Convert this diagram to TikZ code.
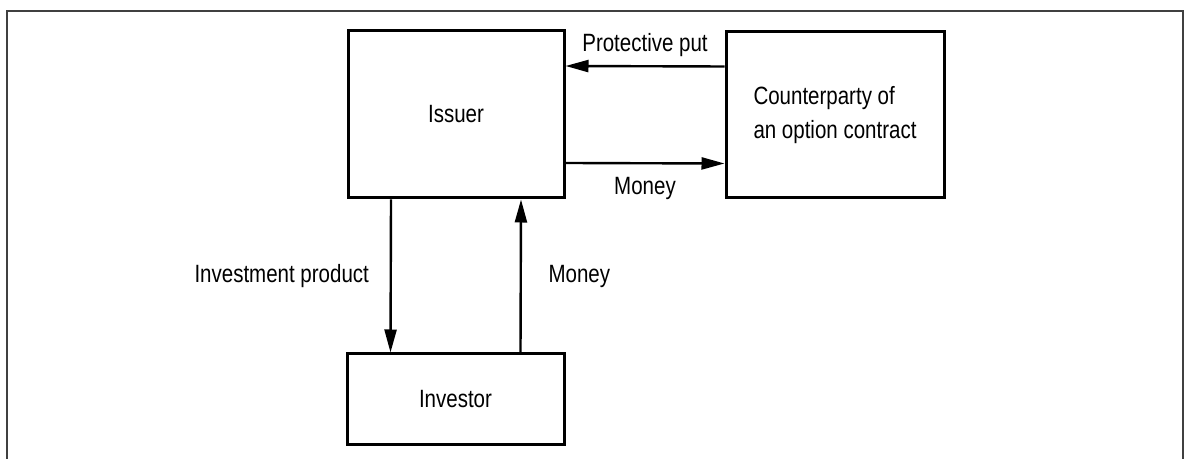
\documentclass[tikz,border=0pt]{standalone}
\usepackage{fontspec}
\setmainfont[FakeStretch=0.82]{Liberation Sans}
\usetikzlibrary{arrows.meta}
\tikzset{x=0.5pt, y=-0.5pt, every node/.append style={font=\fontsize{12.5}{15}\selectfont}}
\tikzset{
    party/.style={draw, line width=1.5pt, inner sep=0pt},
    flow/.style={line width=1.2pt, -{Triangle[length=11.5pt, width=6pt]}}
}

\begin{document}
\begin{tikzpicture}
    \useasboundingbox (0,0) rectangle (1184,459);
    % outer frame, open at the bottom
    \draw[black!75, line width=1pt] (7,470) -- (7,11) -- (1183,11) -- (1183,470);
    \node[party, minimum width=108pt, minimum height=83.5pt] (issuer) at (456,114.5) {Issuer};
    \node[party, minimum width=109pt, minimum height=83pt, align=left,
          font=\fontsize{12.5}{17}\selectfont] (counter) at (835,115)
        {Counterparty of\\an option contract};
    \node[party, minimum width=108.5pt, minimum height=45.5pt] (investor) at (455.5,399.5) {Investor};
    \draw[flow] ([yshift=24.25pt]counter.west) -- node[above=1pt] {Protective put} ([yshift=24.25pt]issuer.east);
    \draw[flow] ([yshift=-24.25pt]issuer.east) -- node[below=3pt] {Money} ([yshift=-24.25pt]counter.west);
    \draw[flow] ([xshift=-32.5pt]issuer.south) -- node[left=7pt] {Investment product} ([xshift=-32.5pt]investor.north);
    \draw[flow] ([xshift=32.5pt]investor.north) -- node[right=10pt] {Money} ([xshift=32.5pt]issuer.south);
\end{tikzpicture}
\end{document}
